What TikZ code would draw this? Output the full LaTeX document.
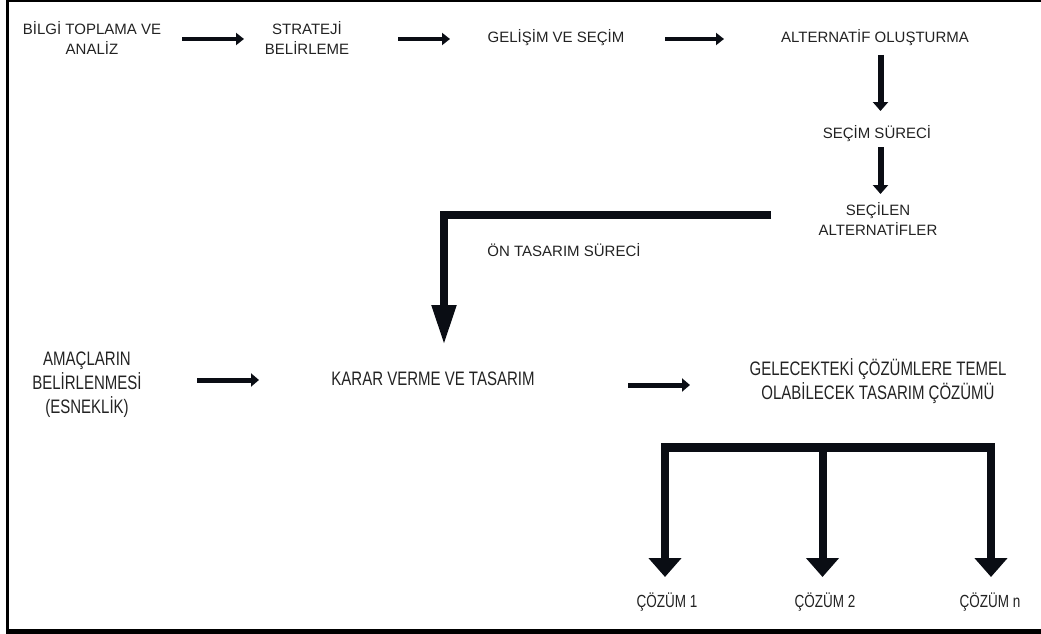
\documentclass[tikz,border=0pt]{standalone}
\usepackage{fontspec}
\setmainfont{Liberation Sans}
\usepackage{graphicx}
\usetikzlibrary{arrows.meta}
\definecolor{txt}{HTML}{222222}
\definecolor{ink}{HTML}{0A0D14}
\newcommand\talltext[1]{\scalebox{1}[1.3]{\begin{tabular}{@{}c@{}}#1\end{tabular}}}
\begin{document}
\begin{tikzpicture}[x=1pt,y=-1pt,
  lbl/.style={text=txt,font=\fontsize{15}{19.5}\selectfont,align=center,inner sep=0pt},
  tall/.style={text=txt,font=\fontsize{15}{18}\selectfont,inner sep=0pt},
  small/.style={text=txt,font=\fontsize{13.5}{16}\selectfont,inner sep=0pt},
  thinarr/.style={draw=ink,line width=4pt,-{Triangle[width=12pt,length=8pt]}},
  midarr/.style={draw=ink,line width=5pt,-{Triangle[width=13pt,length=8pt]}},
  vertarr/.style={draw=ink,line width=6pt,-{Triangle[width=15pt,length=9pt]}},
  bigarr/.style={draw=ink,line width=8pt,-{Triangle[width=23pt,length=40pt]}},
  brarr/.style={draw=ink,line width=8pt,-{Triangle[width=32pt,length=19pt]}},
  frame/.style={draw=black}]
\useasboundingbox (0,0) rectangle (1041,634);
% frame
\draw[frame,line width=2pt] (1041,1) -- (6,1);
\draw[frame,line width=3pt] (7.5,0) -- (7.5,634);
\draw[frame,line width=5pt] (6,631.5) -- (1041,631.5);
% nodes
\node[lbl] (n1) at (92,38) {BİLGİ TOPLAMA VE\\ANALİZ};
\node[lbl] (n2) at (307,38) {STRATEJİ\\BELİRLEME};
\node[lbl] (n3) at (556,38) {GELİŞİM VE SEÇİM};
\node[lbl] (n4) at (875,38) {ALTERNATİF OLUŞTURMA};
\node[lbl] (n5) at (877,134) {SEÇİM SÜRECİ};
\node[lbl] (n6) at (878,219) {SEÇİLEN\\ALTERNATİFLER};
\node[lbl] (n7) at (564,250) {ÖN TASARIM SÜRECİ};
\node[tall] (n8) at (87,385) {\talltext{AMAÇLARIN\\BELİRLENMESİ\\(ESNEKLİK)}};
\node[tall] (n9) at (433,381) {\talltext{KARAR VERME VE TASARIM}};
\node[tall] (n10) at (878,383) {\talltext{GELECEKTEKİ ÇÖZÜMLERE TEMEL\\OLABİLECEK TASARIM ÇÖZÜMÜ}};
\node[small] (c1) at (667,603) {\talltext{ÇÖZÜM 1}};
\node[small] (c2) at (825,603) {\talltext{ÇÖZÜM 2}};
\node[small] (c3) at (990,603) {\talltext{ÇÖZÜM n}};
% connector end points
\coordinate (a1s) at (182,39); \coordinate (a1e) at (244,39);
\coordinate (a2s) at (398,39); \coordinate (a2e) at (450,39);
\coordinate (a3s) at (665,39); \coordinate (a3e) at (724,39);
\coordinate (v1s) at (880.5,55); \coordinate (v1e) at (880.5,111);
\coordinate (v2s) at (880.5,147); \coordinate (v2e) at (880.5,194);
\coordinate (ls) at (771,215); \coordinate (lc) at (444,215); \coordinate (le) at (444,345);
\coordinate (m1s) at (197,380); \coordinate (m1e) at (259,380);
\coordinate (m2s) at (628,385); \coordinate (m2e) at (690,385);
\coordinate (bl) at (661,447.5); \coordinate (br) at (995,447.5);
\coordinate (b1) at (665,443); \coordinate (b2) at (822.5,443); \coordinate (b3) at (991,443);
\coordinate (t1) at (665,577); \coordinate (t2) at (822.5,577); \coordinate (t3) at (991,577);
% connectors
\draw[thinarr] (a1s) -- (a1e);
\draw[thinarr] (a2s) -- (a2e);
\draw[thinarr] (a3s) -- (a3e);
\draw[vertarr] (v1s) -- (v1e);
\draw[vertarr] (v2s) -- (v2e);
\draw[bigarr] (ls) -- (lc) -- (le);
\draw[midarr] (m1s) -- (m1e);
\draw[midarr] (m2s) -- (m2e);
\draw[draw=ink,line width=9pt] (bl) -- (br);
\draw[brarr] (b1) -- (t1);
\draw[brarr] (b2) -- (t2);
\draw[brarr] (b3) -- (t3);
\end{tikzpicture}
\end{document}
